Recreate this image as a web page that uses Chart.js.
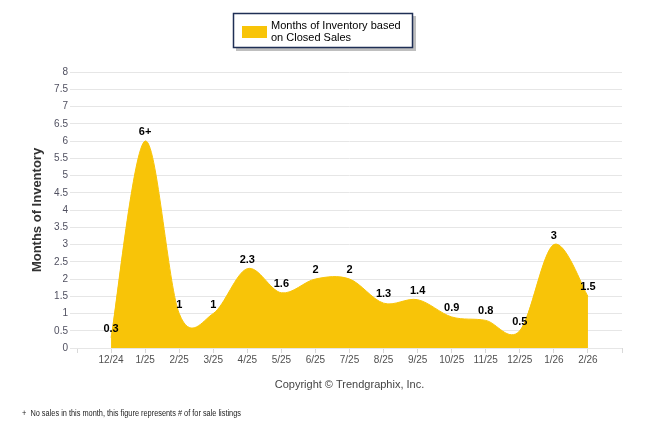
<!DOCTYPE html>
<html>
<head>
<meta charset="utf-8">
<script src="https://cdn.jsdelivr.net/npm/chart.js@4"></script>
<style>
  html, body { margin: 0; padding: 0; background: #fff; }
  #wrap { width: 646px; height: 434px; position: relative; }
</style>
</head>
<body>
<div id="wrap"><canvas id="chart"></canvas></div>
<script>
// chart data
const categories = ["12/24", "1/25", "2/25", "3/25", "4/25", "5/25", "6/25", "7/25", "8/25", "9/25", "10/25", "11/25", "12/25", "1/26", "2/26"];
const inventory = [0.3, 6, 1, 1, 2.3, 1.6, 2, 2, 1.3, 1.4, 0.9, 0.8, 0.5, 3, 1.5];
const valueLabels = ["0.3", "6+", "1", "1", "2.3", "1.6", "2", "2", "1.3", "1.4", "0.9", "0.8", "0.5", "3", "1.5"];
const seriesName = ["Months of Inventory based", "on Closed Sales"];
const footnote = "+  No sales in this month, this figure represents # of for sale listings";

const yellow = "rgb(248, 196, 8)";

// empty slot on each side, like the original axis
const xLabels = [""].concat(categories, [""]);
const xData = [null].concat(inventory, [null]);
const xText = [""].concat(valueLabels, [""]);

// plain catmull-rom curve (the original chart's spline), set on the library's own points
const catmull = {
    id: "catmull",
    afterDatasetsUpdate(chart) {
        const meta = chart.getDatasetMeta(0);
        const line = meta.dataset;
        line.updateControlPoints(chart.chartArea, "x");
        const pts = meta.data.filter(p => !p.skip);
        pts.forEach((p, i) => {
            const prev = pts[i - 1] || p;
            const next = pts[i + 1] || p;
            const dx = (next.x - prev.x) / 6;
            const dy = (next.y - prev.y) / 6;
            p.cp1x = p.x - dx;
            p.cp1y = p.y - dy;
            p.cp2x = p.x + dx;
            p.cp2y = p.y + dy;
        });
    }
};

const extras = {
    id: "extras",
    afterDatasetsDraw(chart) {
        const ctx = chart.ctx;
        const meta = chart.getDatasetMeta(0);
        ctx.save();
        ctx.font = "bold 11px 'Liberation Sans', Arial, sans-serif";
        ctx.fillStyle = "#000";
        ctx.textAlign = "center";
        ctx.textBaseline = "middle";
        meta.data.forEach((pt, i) => {
            if (xText[i] === "") return;
            ctx.fillText(xText[i], pt.x, pt.y - 9);
        });
        ctx.restore();
    },
    afterDraw(chart) {
        const ctx = chart.ctx;
        ctx.save();
        // legend box with shadow
        ctx.fillStyle = "rgba(0,0,0,0.25)";
        ctx.fillRect(236, 16, 180, 35);
        ctx.fillStyle = "#fff";
        ctx.fillRect(233, 13, 180, 35);
        ctx.strokeStyle = "#1f2f55";
        ctx.lineWidth = 1.5;
        ctx.strokeRect(233.5, 13.5, 179, 34);
        ctx.fillStyle = yellow;
        ctx.fillRect(242, 26, 25, 12);
        ctx.fillStyle = "#000";
        ctx.font = "11px 'Liberation Sans', Arial, sans-serif";
        ctx.textAlign = "left";
        ctx.textBaseline = "middle";
        ctx.fillText(seriesName[0], 271, 26);
        ctx.fillText(seriesName[1], 271, 37.5);
        // footnote
        ctx.font = "9px 'Liberation Sans', Arial, sans-serif";
        ctx.fillStyle = "#222";
        ctx.fillText(footnote, 22, 414, 219);
        ctx.restore();
    }
};

const ctx = document.getElementById("chart").getContext("2d");
new Chart(ctx, {
    type: "line",
    data: {
        labels: xLabels,
        datasets: [{
            label: seriesName.join(" "),
            data: xData,
            fill: "origin",
            backgroundColor: yellow,
            borderColor: yellow,
            borderWidth: 1,
            pointRadius: 0,
            tension: 0.4
        }]
    },
    options: {
        responsive: true,
        maintainAspectRatio: false,
        animation: false,
        layout: {
            padding: { left: 0, right: 24, top: 72, bottom: 41 }
        },
        plugins: {
            legend: { display: false },
            tooltip: { enabled: false }
        },
        scales: {
            x: {
                afterFit: (scale) => { scale.height = 45; },
                grid: {
                    drawOnChartArea: false,
                    tickLength: 5,
                    color: "#d9d9d9"
                },
                border: { display: false },
                ticks: {
                    autoSkip: false,
                    maxRotation: 0,
                    padding: 1,
                    color: "#505050",
                    font: { family: "'Liberation Sans', Arial, sans-serif", size: 10 }
                },
                title: {
                    display: true,
                    text: "Copyright \u00A9 Trendgraphix, Inc.",
                    color: "#444",
                    padding: { top: 0, bottom: 1 },
                    font: { family: "'Liberation Sans', Arial, sans-serif", size: 11 }
                }
            },
            y: {
                min: 0,
                max: 8,
                afterFit: (scale) => { scale.width = 77; },
                grid: {
                    color: "#e6e6e6",
                    tickLength: 7
                },
                border: { display: false },
                ticks: {
                    stepSize: 0.5,
                    padding: 2,
                    color: "#505060",
                    callback: (v) => String(v),
                    font: { family: "'Liberation Sans', Arial, sans-serif", size: 10 }
                },
                title: {
                    display: true,
                    text: "Months of Inventory",
                    color: "#333",
                    padding: { top: 30, bottom: 0 },
                    font: { family: "'Liberation Sans', Arial, sans-serif", size: 13, weight: "bold" }
                }
            }
        }
    },
    plugins: [catmull, extras]
});
</script>
</body>
</html>
